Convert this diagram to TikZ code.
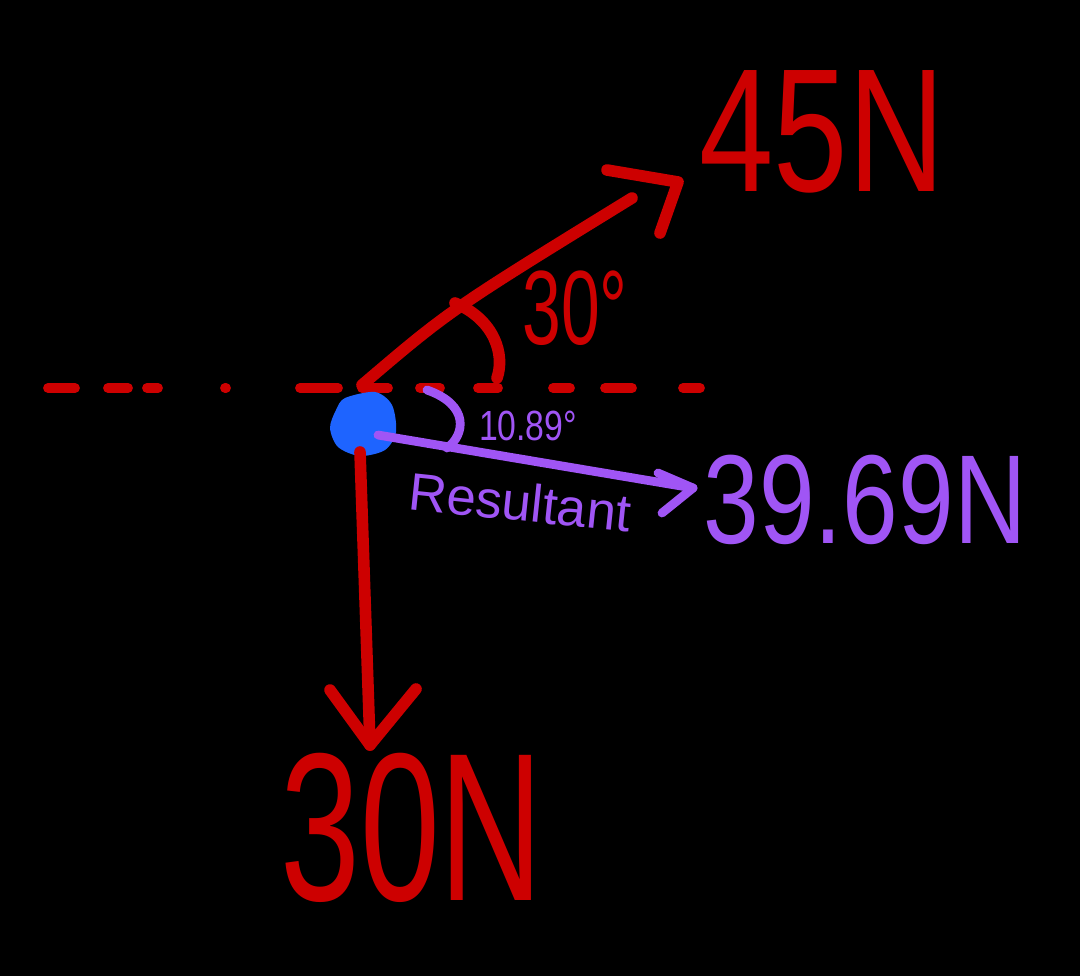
\documentclass[tikz,border=0pt]{standalone}
\usepackage{fontspec}
\setmainfont{Liberation Sans}
\definecolor{fred}{RGB}{205,0,0}
\definecolor{fpurple}{RGB}{160,85,245}
\definecolor{fblue}{RGB}{30,100,255}
\tikzset{
  force/.style={fred, line width=3.3pt, line cap=round, line join=round},
  result/.style={fpurple, line width=2.5pt, line cap=round, line join=round},
  dashbit/.style={fred, line width=2.8pt, line cap=round},
}
\newcommand{\hw}[2]{\scalebox{#1}[1]{#2}}

\begin{document}
\begin{tikzpicture}[x=0.01cm, y=-0.01cm]
            \fill[black](0,0) rectangle (1080,976);
            \useasboundingbox (0,0) rectangle (1080,976);

            % dashed horizontal
            \foreach \a/\b in {48/75, 108/128, 147/158, 225/226, 300/338, 362/388, 420/440, 478/498, 553/570, 605/632, 683/700}
                \draw[dashbit] (\a,388) -- (\b,388);

            % the body
            \fill[fblue] plot[smooth cycle] coordinates {(345,398) (375,392) (392,405) (396,432) (385,450) (360,456) (338,447) (330,428) (336,410)};
            \coordinate (O) at (362,385);
            \coordinate (C) at (362,422);

            % 45N force
            \coordinate (T45) at (678,182);
            \draw[force](O) .. controls (450,310) .. (632,198);
            \draw[force](607,170) -- (T45) -- (660,233);
            \draw[force](455,303) .. controls (495,320) and (505,355) .. (497,378);
            \node[text=fred, font=\fontsize{30}{30}\selectfont, inner sep=0] (ang30) at (575,308) {\hw{0.66}{30°}};
            \node[text=fred, font=\fontsize{50}{50}\selectfont, inner sep=0] (lab45) at (822,132) {\hw{0.76}{45N}};

            % 30N force
            \coordinate (T30) at (370,745);
            \draw[force](360,452) -- (T30);
            \draw[force](330,690) -- (T30) -- (416,689);
            \node[text=fred, font=\fontsize{60}{60}\selectfont, inner sep=0] (lab30) at (412,828) {\hw{0.68}{30N}};

            % resultant
            \coordinate (TR) at (693,488);
            \draw[result](C) ++(16,13) -- (TR);
            \draw[result](658,473) -- (TR) -- (662,513);
            \draw[result](427,390) .. controls (470,405) and (465,435) .. (447,448);
            \node[text=fpurple, font=\fontsize{12}{12}\selectfont, inner sep=0] (ang10) at (528,426) {\hw{0.8}{10.89°}};
            \node[text=fpurple, font=\fontsize{15}{15}\selectfont, inner sep=0, rotate=-6] (res) at (520,502) {Resultant};
            \node[text=fpurple, font=\fontsize{36}{36}\selectfont, inner sep=0] (lab39) at (865,500) {\hw{0.79}{39.69N}};

        \end{tikzpicture}
\end{document}
